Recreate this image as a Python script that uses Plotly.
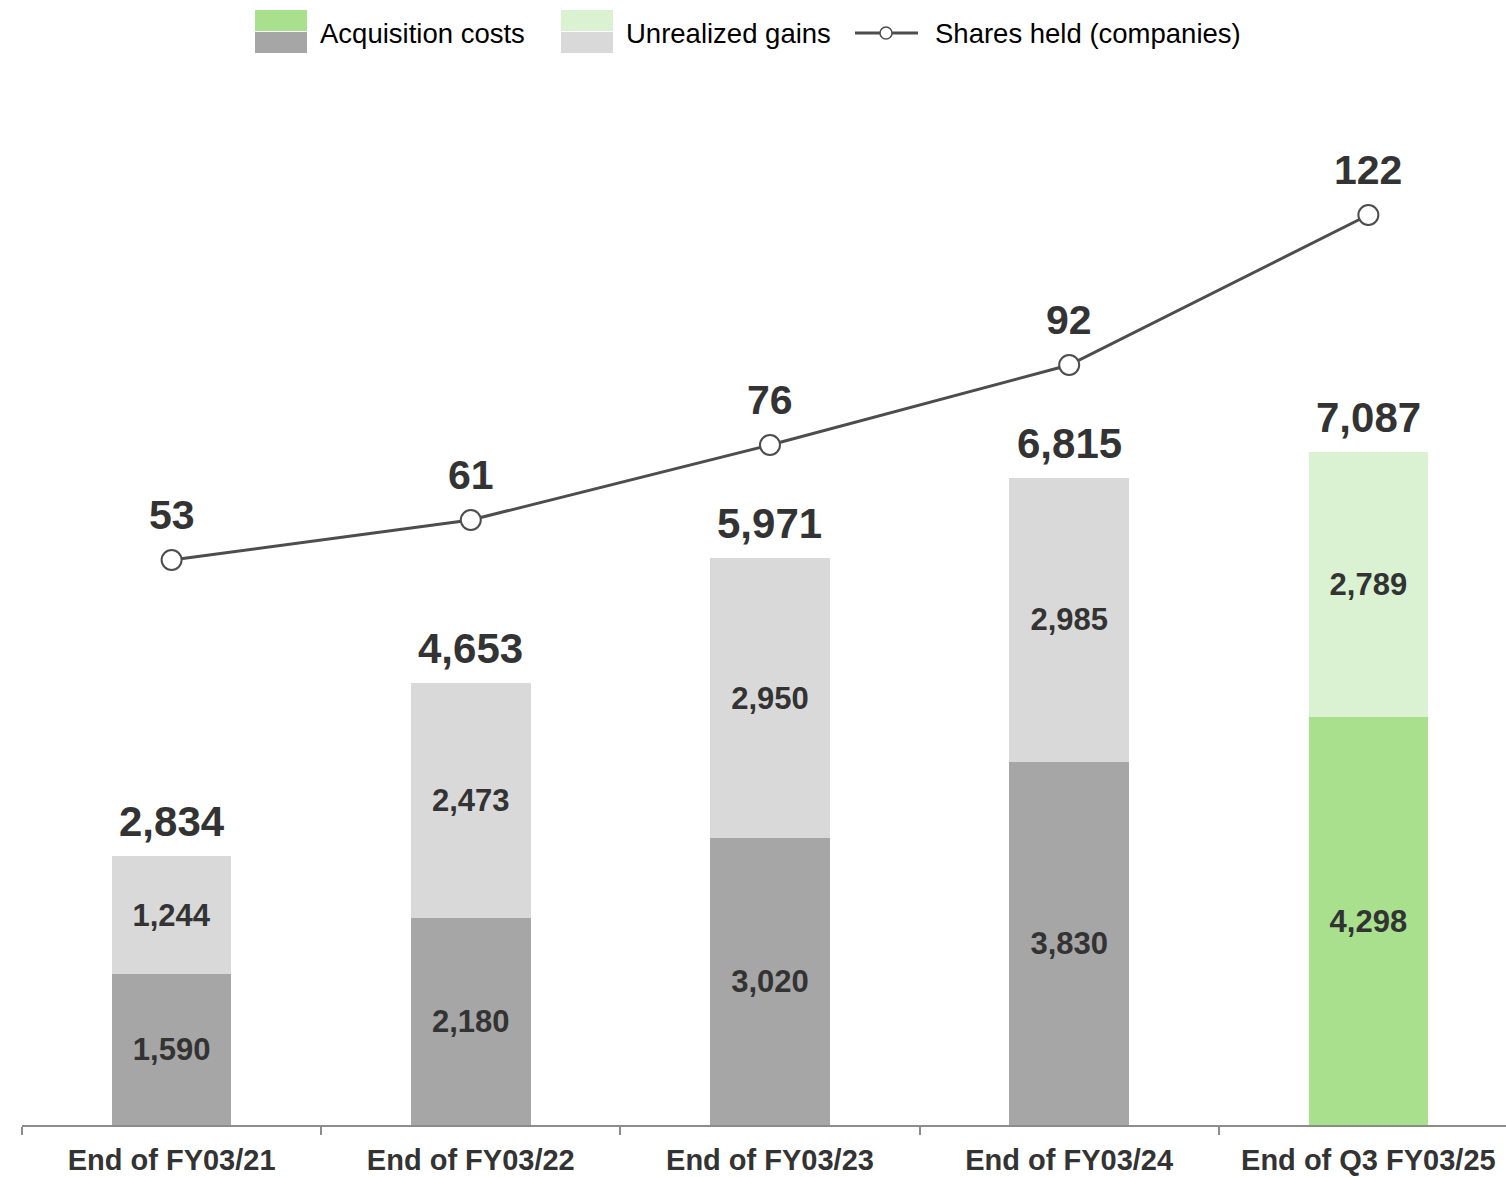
import plotly.graph_objects as go

# ---- data ----
periods = ["End of FY03/21", "End of FY03/22", "End of FY03/23", "End of FY03/24", "End of Q3 FY03/25"]
acquisition_costs = [1590, 2180, 3020, 3830, 4298]
unrealized_gains = [1244, 2473, 2950, 2985, 2789]
totals = [2834, 4653, 5971, 6815, 7087]
shares_held = [53, 61, 76, 92, 122]

# ---- styling ----
GRAY_DARK = "#A6A6A6"
GRAY_LIGHT = "#D9D9D9"
GREEN_DARK = "#A8E08E"
GREEN_LIGHT = "#DAF2D1"
TEXT = "#333333"
LINE = "#4D4D4D"
FONT = "Liberation Sans, Arial, sans-serif"

W, H = 1506, 1177
M_L, M_R, M_T, M_B = 22, 0, 60, 52
PW, PH = W - M_L - M_R, H - M_T - M_B

def px_x(x):
    return (x - M_L) / PW

def px_y(y):
    return (H - M_B - y) / PH

acq_colors = [GRAY_DARK] * (len(periods) - 1) + [GREEN_DARK]
unr_colors = [GRAY_LIGHT] * (len(periods) - 1) + [GREEN_LIGHT]

fig = go.Figure()

fig.add_trace(go.Bar(
    x=periods, y=acquisition_costs, marker=dict(color=acq_colors, line=dict(width=0)),
    width=0.4, text=[f"{v:,}" for v in acquisition_costs], textposition="inside",
    insidetextanchor="middle", constraintext="none",
    textfont=dict(family=FONT, size=31, color=TEXT, weight="bold"),
    name="Acquisition costs", showlegend=False, hoverinfo="skip",
))
fig.add_trace(go.Bar(
    x=periods, y=unrealized_gains, marker=dict(color=unr_colors, line=dict(width=0)),
    width=0.4, text=[f"{v:,}" for v in unrealized_gains], textposition="inside",
    insidetextanchor="middle", constraintext="none",
    textfont=dict(family=FONT, size=31, color=TEXT, weight="bold"),
    name="Unrealized gains", showlegend=False, hoverinfo="skip",
))
fig.add_trace(go.Scatter(
    x=periods, y=shares_held, yaxis="y2", mode="lines+markers",
    line=dict(color=LINE, width=3),
    marker=dict(size=20, color="white", line=dict(color=LINE, width=2)),
    name="Shares held (companies)", showlegend=False, hoverinfo="skip",
))

annotations = []
# total labels above the stacks
for p, t in zip(periods, totals):
    annotations.append(dict(
        x=p, y=t, xref="x", yref="y", text=f"{t:,}", showarrow=False,
        yanchor="middle", yshift=35,
        font=dict(family=FONT, size=42, color=TEXT, weight="bold"),
    ))
# company-count labels above the line markers
for p, s in zip(periods, shares_held):
    annotations.append(dict(
        x=p, y=s, xref="x", yref="y2", text=str(s), showarrow=False,
        yanchor="middle", yshift=45,
        font=dict(family=FONT, size=41, color=TEXT, weight="bold"),
    ))

# custom legend with split swatches
shapes = []
legend_items = [
    (255, GREEN_DARK, GRAY_DARK, "Acquisition costs", 318),
    (561, GREEN_LIGHT, GRAY_LIGHT, "Unrealized gains", 624),
]
for x0, top_c, bot_c, label, tx in legend_items:
    shapes.append(dict(type="rect", xref="paper", yref="paper",
                       x0=px_x(x0), x1=px_x(x0 + 52), y0=px_y(31), y1=px_y(10),
                       fillcolor=top_c, line=dict(width=0)))
    shapes.append(dict(type="rect", xref="paper", yref="paper",
                       x0=px_x(x0), x1=px_x(x0 + 52), y0=px_y(53), y1=px_y(32),
                       fillcolor=bot_c, line=dict(width=0)))
    annotations.append(dict(
        x=px_x(tx), y=px_y(33), xref="paper", yref="paper", text=label,
        showarrow=False, xanchor="left", yanchor="middle",
        font=dict(family=FONT, size=27.5, color="#000000"),
    ))
shapes.append(dict(type="line", xref="paper", yref="paper",
                   x0=px_x(855), x1=px_x(918), y0=px_y(33), y1=px_y(33),
                   line=dict(color=LINE, width=3)))
shapes.append(dict(type="circle", xref="paper", yref="paper",
                   x0=px_x(880), x1=px_x(892), y0=px_y(39), y1=px_y(27),
                   fillcolor="white", line=dict(color=LINE, width=1.5)))
annotations.append(dict(
    x=px_x(933), y=px_y(33), xref="paper", yref="paper", text="Shares held (companies)",
    showarrow=False, xanchor="left", yanchor="middle",
    font=dict(family=FONT, size=27.5, color="#000000"),
))

fig.update_layout(
    width=W, height=H,
    margin=dict(l=M_L, r=M_R, t=M_T, b=M_B),
    paper_bgcolor="white", plot_bgcolor="white",
    barmode="stack", bargap=0.6,
    showlegend=False,
    xaxis=dict(
        type="category", range=[-0.5, 4.46],
        tickson="boundaries", ticks="outside", ticklen=8, tickcolor="#8C8C8C",
        tickwidth=2, ticklabelstandoff=8,
        showline=True, linecolor="#8C8C8C", linewidth=2, showgrid=False, zeroline=False,
        tickfont=dict(family=FONT, size=29, color=TEXT, weight="bold"),
    ),
    yaxis=dict(range=[0, 11222], visible=False, showgrid=False, zeroline=False),
    yaxis2=dict(range=[-60, 153], overlaying="y", visible=False, showgrid=False, zeroline=False),
    annotations=annotations,
    shapes=shapes,
)

fig.write_html("out.html")
